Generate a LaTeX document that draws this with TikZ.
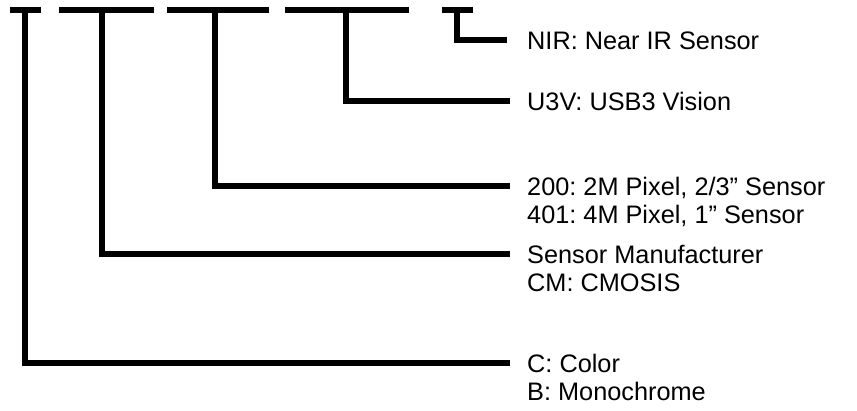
\documentclass[tikz,border=0pt]{standalone}
\usepackage{fontspec}
\setmainfont{Liberation Sans}
\usetikzlibrary{positioning}
\frenchspacing

\tikzset{
    bar/.style={line width=6pt, line join=miter},
    lbl/.style={inner xsep=17pt, inner ysep=0pt, text height=18pt, text depth=0pt,
        font=\fontsize{25.3}{28}\selectfont, anchor=west},
    lbl2/.style={inner xsep=17pt, inner ysep=0pt, text height=18pt, text depth=0pt,
        font=\fontsize{25.3}{28}\selectfont, anchor=base west}
}

\begin{document}
\begin{tikzpicture}[x=1pt, y=-1pt]
    \useasboundingbox (0,0) rectangle (857,410);
    % dashes of the part number
    \draw[bar] (10,10)--(41,10) (59,10)--(154,10) (167,10)--(269,10)
        (285,10)--(409,10) (442,10)--(473,10);
    \coordinate (d1) at (25,10);
    \coordinate (d2) at (102,10);
    \coordinate (d3) at (215,10);
    \coordinate (d4) at (346,10);
    \coordinate (d5) at (457,10);
    % labels
    \node[lbl, inner xsep=20pt] (nir) at (507,40) {NIR: Near IR Sensor};
    \node[lbl] (u3v) at (510,101) {U3V: USB3 Vision};
    \node[lbl] (t200) at (510,186) {200: 2M Pixel, 2/3” Sensor};
    \node[lbl2] (t401) at ([yshift=-28pt]t200.base west) {401: 4M Pixel, 1” Sensor};
    \node[lbl] (mfr) at (510,254) {Sensor Manufacturer};
    \node[lbl2] (cm) at ([yshift=-28pt]mfr.base west) {CM: CMOSIS};
    \node[lbl] (col) at (510,363) {C: Color};
    \node[lbl2] (mono) at ([yshift=-28pt]col.base west) {B: Monochrome};
    % connectors
    \draw[bar] (d5)|-(nir.west);
    \draw[bar] (d4)|-(u3v.west);
    \draw[bar] (d3)|-(t200.west);
    \draw[bar] (d2)|-(mfr.west);
    \draw[bar] (d1)|-(col.west);
\end{tikzpicture}
\end{document}
